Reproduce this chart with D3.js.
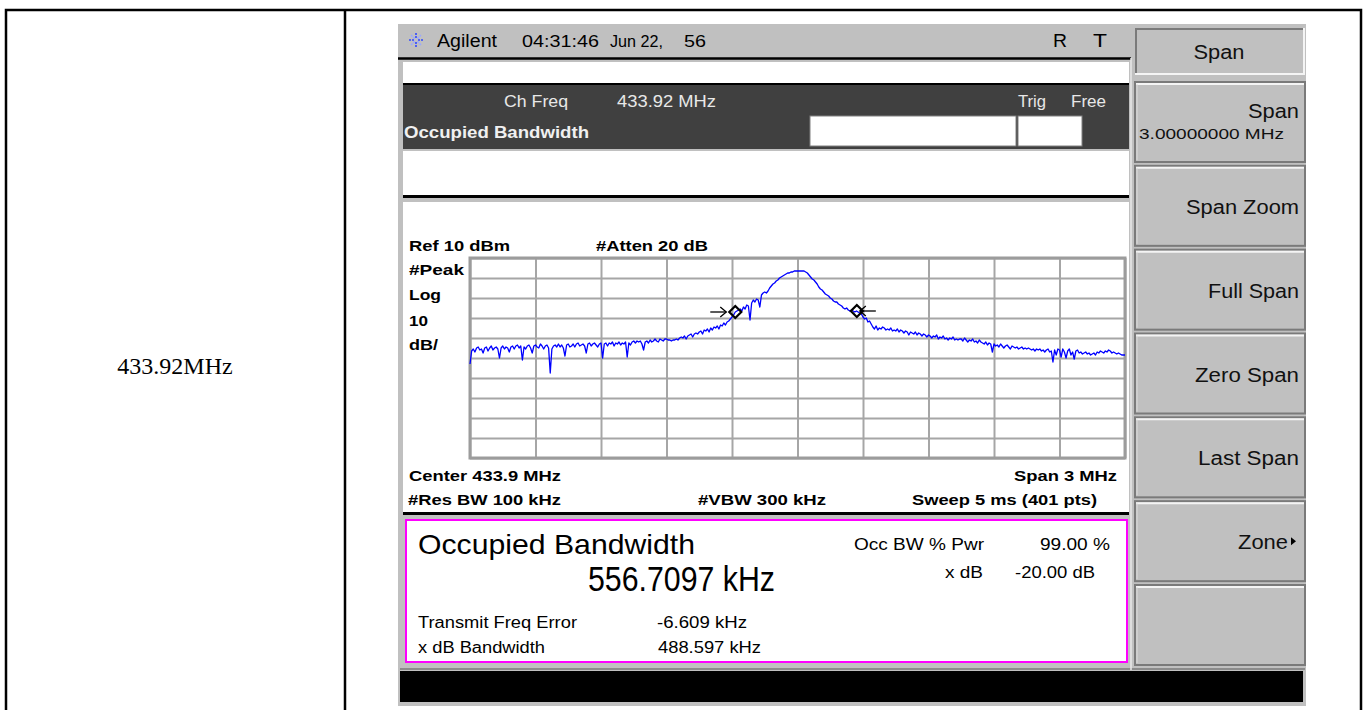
<!DOCTYPE html>
<html>
<head>
<meta charset="utf-8">
<script src="https://cdn.jsdelivr.net/npm/d3@7"></script>
<style>
body { margin: 0; background: #fff; }
svg text { font-family: "Liberation Sans", Arial, sans-serif; }
</style>
</head>
<body>
<svg id="chart" width="1365" height="710"></svg>
<script>
// sweep settings
var centerMHz = 433.92;
var spanMHz = 3;
var refLevel = 10;      // dBm, top line
var dbPerDiv = 10;
var divisions = [0, 1, 2, 3, 4, 5, 6, 7, 8, 9, 10];

// trace, 401 pts, dBm
var trace = [
  -43.0,-36.5,-35.5,-37.0,-35.0,-34.5,-36.0,-35.5,-37.5,-35.0,-34.5,-36.5,-35.0,-34.0,-36.0,-35.0,-34.5,-35.5,-40.0,-35.0,
  -34.0,-35.5,-34.5,-35.0,-37.0,-34.5,-34.0,-35.5,-34.0,-33.5,-35.0,-34.0,-41.0,-34.5,-35.5,-34.0,-33.5,-35.0,-37.5,-34.0,
  -33.5,-34.5,-35.0,-33.0,-34.0,-35.5,-34.0,-33.5,-35.0,-47.5,-35.5,-34.0,-33.5,-34.5,-33.0,-34.5,-33.5,-35.0,-39.0,-33.5,
  -33.0,-34.5,-34.0,-33.0,-34.5,-33.0,-32.5,-34.0,-33.5,-33.0,-34.0,-37.5,-33.0,-32.5,-34.0,-33.0,-32.5,-33.5,-34.5,-33.0,
  -32.5,-40.0,-33.0,-32.5,-34.0,-32.5,-33.0,-32.0,-34.0,-32.5,-33.0,-32.0,-33.5,-32.5,-33.0,-32.0,-39.5,-32.5,-33.5,-32.0,
  -31.5,-32.5,-31.5,-32.0,-31.5,-33.0,-36.0,-32.0,-31.5,-32.5,-31.0,-32.0,-31.5,-30.5,-31.5,-32.0,-30.5,-31.0,-31.5,-30.5,
  -30.5,-31.0,-31.0,-31.5,-31.0,-31.0,-30.5,-31.0,-30.0,-29.5,-30.0,-29.0,-30.5,-29.0,-28.5,-28.0,-29.5,-28.0,-27.5,-28.0,
  -27.0,-26.5,-28.0,-26.0,-26.5,-25.5,-27.0,-25.0,-26.0,-24.5,-25.0,-24.0,-25.5,-23.5,-24.0,-22.5,-23.5,-22.0,-21.5,-20.5,
  -19.5,-18.5,-17.0,-16.5,-16.0,-15.5,-16.5,-14.5,-15.5,-13.5,-14.0,-21.0,-12.5,-11.0,-12.0,-10.5,-11.0,-14.5,-8.5,-7.5,
  -7.0,-7.5,-6.5,-5.0,-4.0,-3.0,-2.5,-1.5,-1.0,0.0,0.5,1.0,1.5,2.0,2.5,2.5,3.0,3.0,3.5,3.5,
  3.5,3.5,3.5,3.5,3.5,3.0,2.5,1.5,0.5,-0.5,-1.0,-2.0,-3.0,-4.5,-5.5,-6.0,-7.0,-8.0,-8.5,-9.0,
  -10.0,-10.5,-11.5,-12.0,-12.0,-13.0,-13.5,-14.0,-15.0,-15.5,-15.0,-16.0,-16.5,-16.0,-16.5,-17.0,-16.5,-17.0,-17.5,-18.0,
  -19.5,-20.5,-20.0,-22.0,-21.5,-23.0,-24.5,-25.5,-24.0,-26.0,-25.0,-25.5,-24.5,-25.0,-26.0,-25.5,-26.0,-25.0,-26.5,-26.0,
  -26.5,-25.5,-27.0,-26.0,-26.5,-27.5,-26.5,-27.0,-28.5,-27.0,-27.5,-28.0,-27.0,-28.5,-27.5,-28.0,-29.0,-28.0,-28.5,-29.5,
  -28.5,-29.0,-30.0,-29.0,-29.5,-28.5,-30.5,-29.5,-30.0,-29.0,-30.5,-30.0,-31.0,-30.0,-30.5,-29.5,-31.0,-30.5,-31.0,-30.5,
  -30.5,-31.5,-30.0,-31.0,-32.0,-31.0,-31.5,-30.5,-32.0,-31.5,-32.5,-31.0,-32.0,-32.5,-33.0,-32.0,-33.5,-32.5,-33.0,-37.0,
  -33.0,-34.0,-33.5,-34.5,-33.0,-34.0,-35.0,-34.0,-33.5,-34.5,-35.5,-34.0,-34.5,-35.0,-34.5,-35.5,-35.0,-34.5,-35.5,-35.0,
  -35.5,-35.0,-35.5,-36.0,-35.5,-36.5,-35.5,-36.0,-35.5,-36.5,-36.0,-37.0,-36.0,-35.5,-37.0,-36.5,-42.0,-36.0,-38.5,-35.5,
  -36.0,-39.5,-35.5,-37.0,-40.0,-36.5,-35.5,-38.5,-37.0,-40.5,-36.5,-36.0,-37.5,-37.0,-38.0,-37.5,-37.0,-38.0,-37.5,-38.5,
  -38.0,-37.5,-38.5,-37.0,-37.5,-36.5,-37.0,-37.5,-36.5,-37.0,-36.0,-36.5,-37.5,-37.0,-37.5,-38.0,-37.5,-38.0,-38.5,-38.5,
  -38.5
];

// occupied bandwidth result
var obwKHz = 556.7097;
var freqErrKHz = -6.609;
var xdbBwKHz = 488.597;

// softkey labels
var softTitle = "Span";
var softkeys = [
  { label: "Span", sub: "3.00000000 MHz" },
  { label: "Span Zoom" },
  { label: "Full Span" },
  { label: "Zero Span" },
  { label: "Last Span" },
  { label: "Zone", more: true },
  { label: "" }
];

var svg = d3.select("#chart");

// text helper; w = width seen on the screen, glyphs are stretched to fit
function label(g, t, x, y, size, o) {
  o = o || {};
  var el = g.append("text").attr("x", x).attr("y", y)
    .style("font-size", size + "px").attr("fill", o.fill || "#000").text(t);
  if (o.bold) el.style("font-weight", "bold");
  if (o.anchor) el.attr("text-anchor", o.anchor);
  if (o.family) el.style("font-family", o.family);
  if (o.w) el.attr("textLength", o.w).attr("lengthAdjust", "spacingAndGlyphs");
  return el;
}
function rect(g, x, y, w, h, fill) {
  return g.append("rect").attr("x", x).attr("y", y).attr("width", w).attr("height", h).attr("fill", fill);
}
function hline(g, x1, x2, y, col, sw) {
  g.append("line").attr("x1", x1).attr("x2", x2).attr("y1", y).attr("y2", y)
    .attr("stroke", col).attr("stroke-width", sw);
}
function vline(g, x, y1, y2, col, sw) {
  g.append("line").attr("x1", x).attr("x2", x).attr("y1", y1).attr("y2", y2)
    .attr("stroke", col).attr("stroke-width", sw);
}

// --- document table round the screenshot
svg.append("rect").attr("x", 6).attr("y", 10).attr("width", 1355).attr("height", 720)
  .attr("fill", "none").attr("stroke", "#000").attr("stroke-width", 2.5);
vline(svg, 345, 10, 710, "#000", 2.5);
label(svg, "433.92MHz", 175, 374, 24, { anchor: "middle", family: "'Liberation Serif', 'Times New Roman', serif" });

// --- analyzer screen
var scr = svg.append("g");
rect(scr, 398, 24, 908, 682, "#c0c0c0");

// title bar
var star = scr.append("g").attr("transform", "translate(416,40)");
d3.range(8).forEach(function(k) {
  var a = k * Math.PI / 4;
  star.append("line").attr("x1", Math.cos(a) * 2).attr("y1", Math.sin(a) * 2)
    .attr("x2", Math.cos(a) * 8).attr("y2", Math.sin(a) * 8)
    .attr("stroke", k % 2 ? "#9aa8ff" : "#3048ff").attr("stroke-width", 1.6)
    .attr("stroke-dasharray", "2,1");
});
label(scr, "Agilent", 437, 47, 18, { w: 60 });
label(scr, "04:31:46", 522, 47, 17, { w: 77 });
label(scr, "Jun 22,", 610, 47, 17, { w: 53 });
label(scr, "56", 684, 47, 17, { w: 22 });
label(scr, "R", 1053, 47, 18, { w: 14 });
label(scr, "T", 1093, 47, 18, { w: 14 });

// status strips
hline(scr, 398, 1131, 58.5, "#000", 2.5);
rect(scr, 403, 62, 726, 21, "#fff");
hline(scr, 403, 1129, 84, "#000", 2);
rect(scr, 403, 85, 726, 64, "#404040");
label(scr, "Ch Freq", 504, 107, 16, { fill: "#e8e8e8", w: 64 });
label(scr, "433.92 MHz", 617, 107, 16, { fill: "#e8e8e8", w: 99 });
label(scr, "Trig", 1018, 107, 16, { fill: "#e8e8e8", w: 28 });
label(scr, "Free", 1071, 107, 16, { fill: "#e8e8e8", w: 35 });
label(scr, "Occupied Bandwidth", 404, 138, 16, { fill: "#f0f0f0", bold: true, w: 185 });
rect(scr, 810, 116, 206, 30, "#fff").attr("stroke", "#808080").attr("stroke-width", 1);
rect(scr, 1018, 116, 64, 30, "#fff").attr("stroke", "#808080").attr("stroke-width", 1);
rect(scr, 403, 151, 726, 44, "#fff");
hline(scr, 403, 1129, 196.5, "#000", 3);
rect(scr, 403, 202, 726, 310, "#fff");
hline(scr, 403, 1129, 513.5, "#000", 3);

// --- graticule and trace
var xScale = d3.scaleLinear()
  .domain([centerMHz - spanMHz / 2, centerMHz + spanMHz / 2])
  .range([470, 1125]);
var yScale = d3.scaleLinear()
  .domain([refLevel - dbPerDiv * 10, refLevel])
  .range([458, 258]);

var xGrid = d3.axisBottom(xScale)
  .tickValues(divisions.map(function(d) { return xScale.domain()[0] + d * spanMHz / 10; }))
  .tickSize(-200).tickFormat("");
var yGrid = d3.axisLeft(yScale)
  .tickValues(divisions.map(function(d) { return refLevel - d * dbPerDiv; }))
  .tickSize(-655).tickFormat("");

var gx = scr.append("g").attr("transform", "translate(0,458)").call(xGrid);
var gy = scr.append("g").attr("transform", "translate(470,0)").call(yGrid);
[gx, gy].forEach(function(g) {
  g.select(".domain").remove();
  g.selectAll(".tick line").attr("stroke", "#a6a6a6").attr("stroke-width", 2);
});
scr.append("rect").attr("x", 470).attr("y", 258).attr("width", 655).attr("height", 200)
  .attr("fill", "none").attr("stroke", "#9c9c9c").attr("stroke-width", 3);

var stepMHz = spanMHz / (trace.length - 1);
var line = d3.line()
  .x(function(d, i) { return xScale(xScale.domain()[0] + i * stepMHz); })
  .y(function(d) { return yScale(d); });
scr.append("path").attr("d", line(trace)).attr("fill", "none")
  .attr("stroke", "#0000ff").attr("stroke-width", 1.3).attr("stroke-linejoin", "round");

// OBW markers (diamond + arrow)
var obwCenter = centerMHz + freqErrKHz / 1000;
var markerFreqs = [obwCenter - obwKHz / 2000, obwCenter + obwKHz / 2000];
markerFreqs.forEach(function(f, k) {
  var idx = Math.round((f - xScale.domain()[0]) / stepMHz);
  var mx = xScale(f), my = yScale(trace[idx]);
  var m = scr.append("g").attr("transform", "translate(" + mx + "," + my + ")");
  m.append("path").attr("d", "M0,-6L6,0L0,6L-6,0Z").attr("fill", "none")
    .attr("stroke", "#000").attr("stroke-width", 2.2);
  var dir = k === 0 ? -1 : 1;
  var tip = k === 0 ? -9 : 3;
  m.append("line").attr("x1", dir * 25 + (k === 0 ? 0 : -6)).attr("x2", tip).attr("y1", 0).attr("y2", 0)
    .attr("stroke", "#000").attr("stroke-width", 1.3);
  m.append("path")
    .attr("d", "M" + (tip + dir * 6) + ",-5L" + tip + ",0L" + (tip + dir * 6) + ",5")
    .attr("fill", "none").attr("stroke", "#000").attr("stroke-width", 1.3);
});

// graticule annotations
label(scr, "Ref 10 dBm", 409, 251, 15, { bold: true, w: 101 });
label(scr, "#Atten 20 dB", 596, 251, 15, { bold: true, w: 112 });
label(scr, "#Peak", 409, 275, 15, { bold: true, w: 55 });
label(scr, "Log", 409, 300, 15, { bold: true, w: 32 });
label(scr, "10", 409, 326, 15, { bold: true, w: 19 });
label(scr, "dB/", 409, 350, 15, { bold: true, w: 29 });
label(scr, "Center 433.9 MHz", 409, 481, 15, { bold: true, w: 152 });
label(scr, "Span 3 MHz", 1014, 481, 15, { bold: true, w: 103 });
label(scr, "#Res BW 100 kHz", 408, 505, 15, { bold: true, w: 153 });
label(scr, "#VBW 300 kHz", 698, 505, 15, { bold: true, w: 128 });
label(scr, "Sweep 5 ms (401 pts)", 912, 505, 15, { bold: true, w: 185 });

// --- result box
rect(scr, 406, 520, 721, 142, "#fff").attr("stroke", "#ff00ff").attr("stroke-width", 2);
label(scr, "Occupied Bandwidth", 418, 554, 28, { w: 277 });
label(scr, obwKHz.toFixed(4) + " kHz", 588, 591, 35, { w: 187 });
label(scr, "Occ BW % Pwr", 854, 550, 16, { w: 130 });
label(scr, "99.00 %", 1040, 550, 16, { w: 70 });
label(scr, "x dB", 945, 578, 16, { w: 38 });
label(scr, "-20.00 dB", 1015, 578, 16, { w: 80 });
label(scr, "Transmit Freq Error", 418, 628, 16, { w: 159 });
label(scr, freqErrKHz.toFixed(3) + " kHz", 657, 628, 16, { w: 90 });
label(scr, "x dB Bandwidth", 418, 653, 16, { w: 127 });
label(scr, xdbBwKHz.toFixed(3) + " kHz", 658, 653, 16, { w: 103 });

// bottom message bar
hline(scr, 400, 1305, 669, "#7a7a7a", 1.5);
rect(scr, 400, 671, 903, 31, "#000");

// --- softkeys
vline(scr, 1131, 58, 670, "#e8e8e8", 1.5);
var sk = scr.append("g");
rect(sk, 1135, 28, 170, 46, "#c0c0c0");
hline(sk, 1135, 1305, 29, "#7a7a7a", 2);
vline(sk, 1136, 28, 74, "#7a7a7a", 2);
hline(sk, 1135, 1305, 74, "#f4f4f4", 2);
vline(sk, 1304, 28, 74, "#f4f4f4", 2);
label(sk, softTitle, 1219, 59, 20, { anchor: "middle", fill: "#111", w: 51 });

var btnTop = d3.scaleLinear().domain([0, 6]).range([82, 585]);
var keyWidths = { "Span Zoom": 113, "Full Span": 91, "Zero Span": 104, "Last Span": 101, "Zone": 50 };
softkeys.forEach(function(k, i) {
  var y = btnTop(i), g = sk.append("g");
  rect(g, 1135, y, 170, 80, "#c0c0c0").attr("stroke", "#7a7a7a").attr("stroke-width", 2);
  hline(g, 1136, 1304, y + 2, "#f4f4f4", 2);
  vline(g, 1137, y + 2, y + 78, "#dcdcdc", 1);
  if (k.sub) {
    label(g, k.label, 1299, y + 36, 20, { anchor: "end", fill: "#111", w: 51 });
    label(g, k.sub, 1139, y + 57, 15, { fill: "#111", w: 145 });
  } else if (k.label) {
    var right = k.more ? 1288 : 1299;
    label(g, k.label, right, y + 48, 20, { anchor: "end", fill: "#111", w: keyWidths[k.label] });
    if (k.more) {
      g.append("path").attr("d", "M1291," + (y + 36) + "L1296," + (y + 40) + "L1291," + (y + 44) + "Z").attr("fill", "#000");
    }
  }
});
</script>
</body>
</html>
